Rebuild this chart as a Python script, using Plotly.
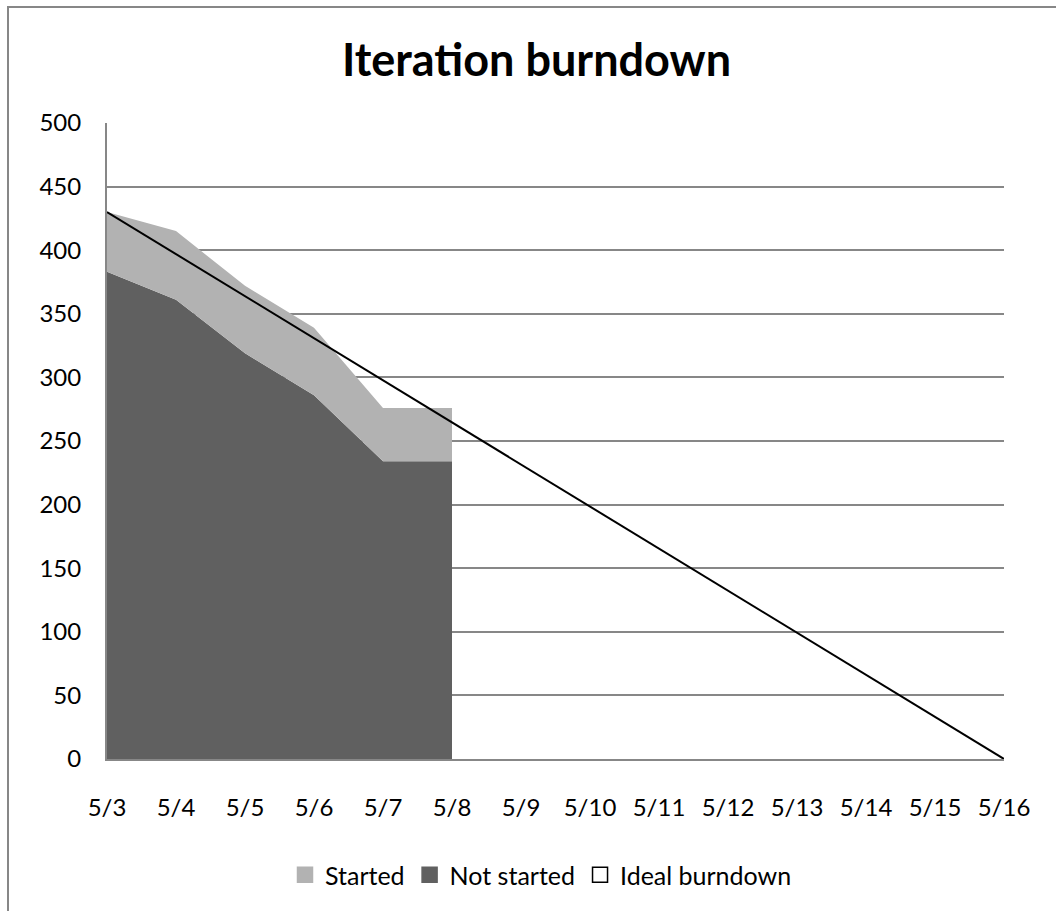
import plotly.graph_objects as go

# Sprint calendar and remaining work (hours)
dates = ["5/3", "5/4", "5/5", "5/6", "5/7", "5/8", "5/9", "5/10",
         "5/11", "5/12", "5/13", "5/14", "5/15", "5/16"]
progress_dates = ["5/3", "5/4", "5/5", "5/6", "5/7", "5/8"]
not_started = [383, 361, 319, 286, 234, 234]
started = [47, 54, 53, 53, 42, 42]
ideal_dates = ["5/3", "5/16"]
ideal_values = [430, 0]
y_ticks = [0, 50, 100, 150, 200, 250, 300, 350, 400, 450, 500]

W, H = 1056, 911
M_L, M_R, M_T, M_B = 107, 52, 123, 152
FONT = "Lato, 'Open Sans', sans-serif"
GRID = "#878787"
LIGHT = "#b2b2b2"
DARK = "#606060"

fig = go.Figure()

# Stacked areas: not started at the bottom, started on top
fig.add_trace(go.Scatter(
    x=progress_dates, y=not_started, mode="lines", stackgroup="work",
    line=dict(width=0, color=DARK), fillcolor=DARK, showlegend=False,
    name="Not started"))
fig.add_trace(go.Scatter(
    x=progress_dates, y=started, mode="lines", stackgroup="work",
    line=dict(width=0, color=LIGHT), fillcolor=LIGHT, showlegend=False,
    name="Started"))
fig.add_trace(go.Scatter(
    x=ideal_dates, y=ideal_values, mode="lines",
    line=dict(color="black", width=2), showlegend=False,
    name="Ideal burndown"))

# Square legend keys
for name, color, sym in [("Started", LIGHT, "square"),
                         ("Not started", DARK, "square"),
                         ("Ideal burndown", "black", "square-open")]:
    fig.add_trace(go.Scatter(
        x=[None], y=[None], mode="markers", name=name,
        marker=dict(symbol=sym, size=15, color=color,
                    line=dict(color="black" if sym == "square-open" else color, width=1.5))))


def px_x(p):
    return (p - M_L) / (W - M_L - M_R)


def px_y(p):
    return (H - M_B - p) / (H - M_T - M_B)


fig.update_layout(
    width=W, height=H,
    margin=dict(l=M_L, r=M_R, t=M_T, b=M_B, autoexpand=False),
    paper_bgcolor="white", plot_bgcolor="white",
    font=dict(family=FONT, size=24, color="black"),
    title=dict(text="<b>Iteration burndown</b>", x=536.5 / W, xanchor="center",
               y=1 - 60 / H, yanchor="middle", yref="container",
               font=dict(family=FONT, size=45, color="black")),
    xaxis=dict(type="category", categoryorder="array", categoryarray=dates,
               range=[0, len(dates) - 1], showgrid=False, zeroline=False,
               showline=True, linecolor=GRID, linewidth=2,
               ticks="outside", ticklen=26, tickcolor="rgba(0,0,0,0)",
               tickfont=dict(size=24), tickangle=0, automargin=False),
    yaxis=dict(range=[0, 500], tickvals=y_ticks, showgrid=True,
               gridcolor=GRID, gridwidth=1.7, zeroline=False,
               showline=True, linecolor=GRID, linewidth=2,
               ticks="outside", ticklen=19, tickcolor="rgba(0,0,0,0)",
               tickfont=dict(size=24), automargin=False),
    legend=dict(orientation="h", x=px_x(541), xanchor="center",
                y=px_y(852), yanchor="top",
                font=dict(size=25), itemwidth=30, traceorder="normal",
                bgcolor="rgba(0,0,0,0)"),
    hovermode=False,
    shapes=[dict(type="rect", xref="paper", yref="paper",
                 x0=px_x(8), x1=px_x(W + 10), y0=px_y(H + 10), y1=px_y(7),
                 line=dict(color=GRID, width=2), fillcolor="rgba(0,0,0,0)",
                 layer="below")],
)

fig.write_html("out.html")
